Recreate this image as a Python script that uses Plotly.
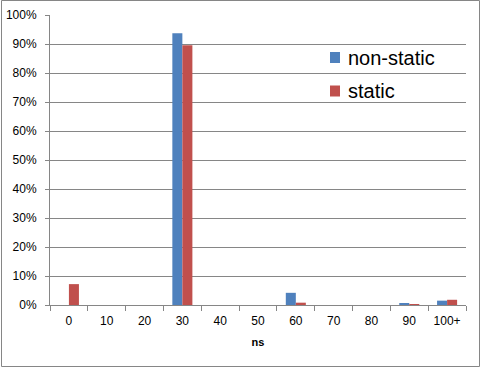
import plotly.graph_objects as go

categories = ["0", "10", "20", "30", "40", "50", "60", "70", "80", "90", "100+"]
non_static = [0.0, 0.0, 0.0, 93.7, 0.0, 0.0, 4.2, 0.0, 0.0, 0.7, 1.5]
static = [7.2, 0.0, 0.0, 89.6, 0.0, 0.0, 0.8, 0.0, 0.0, 0.3, 1.8]
series_names = ["non-static", "static"]
series_colors = ["#4F81BD", "#C0504D"]
y_ticks = [0, 10, 20, 30, 40, 50, 60, 70, 80, 90, 100]
y_labels = [f"{v}%" for v in y_ticks]

W, H = 481, 368
ml, mr, mt, mb = 50, 15, 15, 63
pw, ph = W - ml - mr, H - mt - mb

fig = go.Figure()
for name, vals, col in zip(series_names, [non_static, static], series_colors):
    fig.add_trace(go.Bar(x=categories, y=vals, name=name,
                         marker=dict(color=col, line=dict(width=0)),
                         hoverinfo="skip", showlegend=False))

font = dict(family="Liberation Sans, Arial, sans-serif", size=12, color="#000000")

# legend drawn manually (square + text) to match the reference placement
shapes = []
annotations = []
leg_rows_px = [57.5, 91]
for (name, col), cy in zip(zip(series_names, series_colors), leg_rows_px):
    shapes.append(dict(type="rect", xref="paper", yref="paper",
                       x0=(330 - ml) / pw, x1=(340 - ml) / pw,
                       y0=(ph + mt - (cy + 5.5)) / ph, y1=(ph + mt - (cy - 5.5)) / ph,
                       fillcolor=col, line=dict(width=0)))
    annotations.append(dict(xref="paper", yref="paper", x=(346 - ml) / pw,
                            y=(ph + mt - cy) / ph, xanchor="left", yanchor="middle",
                            text=name, showarrow=False,
                            font=dict(family="Liberation Sans, Arial, sans-serif", size=20, color="#000000")))

shapes.append(dict(type="rect", xref="paper", yref="paper",
                   x0=(-ml + 1.5) / pw, x1=(pw + mr - 1.5) / pw,
                   y0=(-mb + 1.5) / ph, y1=(ph + mt - 0.5) / ph,
                   line=dict(color="#868686", width=1), layer="below"))

fig.update_layout(
    width=W, height=H,
    margin=dict(l=ml, r=mr, t=mt, b=mb, pad=0),
    paper_bgcolor="white", plot_bgcolor="white",
    bargap=0.47, bargroupgap=0,
    font=font,
    showlegend=False,
    xaxis=dict(
        type="category", showgrid=False, showline=True, linecolor="#868686",
        linewidth=1, ticks="outside", tickson="boundaries", ticklen=5,
        tickcolor="#868686", tickfont=font, automargin=False,
        ticklabelstandoff=5,
        title=dict(text="<b>ns</b>", font=dict(family="Liberation Sans, Arial, sans-serif", size=11), standoff=10),
    ),
    yaxis=dict(
        range=[0, 100], tickvals=y_ticks, ticktext=y_labels,
        showgrid=True, gridcolor="#868686", gridwidth=1,
        showline=True, linecolor="#868686", linewidth=1,
        ticks="outside", ticklen=4, tickcolor="#868686",
        tickfont=font, zeroline=False, automargin=False,
        ticklabelstandoff=6,
    ),
    shapes=shapes,
    annotations=annotations,
)

fig.write_html("out.html", config={"displayModeBar": False},
               post_script="document.body.style.margin='0';document.body.style.padding='0';")
